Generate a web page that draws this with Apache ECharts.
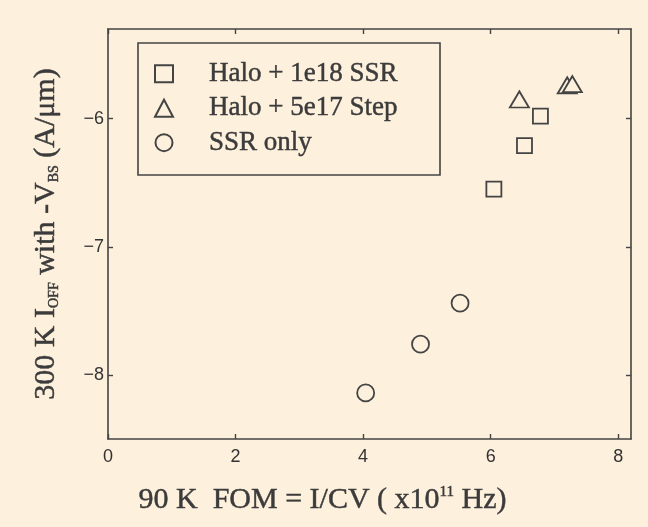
<!DOCTYPE html>
<html>
<head>
<meta charset="utf-8">
<script src="https://cdn.jsdelivr.net/npm/echarts@6/dist/echarts.min.js"></script>
<style>
  html, body { margin: 0; padding: 0; background: #fdf0dc; }
  #chart { width: 648px; height: 527px; }
</style>
</head>
<body>
<div id="chart"></div>
<script>
// 90 K figure of merit (x1e11 Hz) against log10 of the 300 K off-state current
const seriesNames = ['Halo + 1e18 SSR', 'Halo + 5e17 Step', 'SSR only'];
const halo1e18SSR = [[6.05, -6.55], [6.53, -6.21], [6.78, -5.98]];
const halo5e17Step = [[6.45, -5.85], [7.20, -5.74], [7.28, -5.73]];
const ssrOnly = [[4.04, -8.14], [4.90, -7.76], [5.52, -7.44]];
const xTicks = [0, 2, 4, 6, 8];
const yTicks = [-8, -7, -6];

const ink = '#444444';
const textInk = '#3b3b3b';
const paper = '#fdf0dc';
const serif = '"Liberation Serif", "Times New Roman", serif';
const sans = '"Liberation Sans", Arial, sans-serif';

const frameLine = { show: true, onZero: false, lineStyle: { color: ink, width: 1.6 } };
const tickStyle = (vals) => ({ show: true, inside: true, length: 5, customValues: vals, lineStyle: { color: ink, width: 1.4 } });

const hollow = { color: paper, borderColor: ink, borderWidth: 1.8, opacity: 1 };

// serif text with a faint outline so it reads a little heavier
const serifText = (size, extra) => Object.assign({
  fontFamily: serif, fontSize: size, lineHeight: size, color: textInk,
  textBorderColor: textInk, textBorderWidth: 0.45
}, extra || {});

const chart = echarts.init(document.getElementById('chart'), null, { renderer: 'canvas' });
chart.setOption({
  backgroundColor: paper,
  animation: false,
  grid: { left: 108, right: 17, top: 29, bottom: 88, containLabel: false },
  legend: {
    orient: 'vertical',
    left: 149,
    top: 55,
    itemWidth: 18,
    itemHeight: 17,
    itemGap: 7,
    data: seriesNames,
    textStyle: serifText(27, { padding: [0, 0, 0, 31] })
  },
  graphic: [{
    type: 'rect',
    shape: { x: 138, y: 43, width: 302, height: 132 },
    style: { fill: 'none', stroke: ink, lineWidth: 1.6 },
    silent: true
  }],
  xAxis: [{
    type: 'value', min: 0, max: 8.2, position: 'bottom',
    axisLine: frameLine,
    axisTick: tickStyle(xTicks),
    splitLine: { show: false },
    axisLabel: { customValues: xTicks, margin: 9, fontFamily: sans, fontSize: 18, color: '#333333' },
    name: '{m|90 K  FOM = I/CV ( x10}{p|11}{m| Hz)}',
    nameLocation: 'middle',
    nameGap: 46,
    nameTextStyle: {
      padding: [0, 94, 0, 0],
      rich: {
        m: serifText(30, { verticalAlign: 'top' }),
        p: serifText(15, { verticalAlign: 'top' })
      }
    }
  }, {
    type: 'value', min: 0, max: 8.2, position: 'top',
    axisLine: frameLine,
    axisTick: tickStyle(xTicks),
    axisLabel: { show: false },
    splitLine: { show: false }
  }],
  yAxis: [{
    type: 'value', min: -8.5, max: -5.3, position: 'left',
    axisLine: frameLine,
    axisTick: tickStyle(yTicks),
    splitLine: { show: false },
    axisLabel: {
      customValues: yTicks, margin: 4, fontFamily: sans, fontSize: 18, color: '#333333',
      formatter: (v) => String(v).replace('-', '\u2212')
    },
    name: '{m|300 K I}{s|OFF}{m| with -V}{s|BS}{m| (A/\u03bcm)}',
    nameLocation: 'middle',
    nameGap: 47,
    nameTextStyle: {
      rich: {
        m: serifText(30, { verticalAlign: 'top' }),
        s: serifText(14, { verticalAlign: 'bottom', padding: [26, 0, 0, 0] })
      }
    }
  }, {
    type: 'value', min: -8.5, max: -5.3, position: 'right',
    axisLine: frameLine,
    axisTick: tickStyle(yTicks),
    axisLabel: { show: false },
    splitLine: { show: false }
  }],
  series: [{
    name: seriesNames[0], type: 'scatter', symbol: 'rect', symbolSize: [15, 15],
    itemStyle: hollow, data: halo1e18SSR
  }, {
    name: seriesNames[1], type: 'scatter', symbol: 'triangle', symbolSize: [19, 16],
    itemStyle: hollow, data: halo5e17Step
  }, {
    name: seriesNames[2], type: 'scatter', symbol: 'circle', symbolSize: 17,
    itemStyle: hollow, data: ssrOnly
  }]
});
</script>
</body>
</html>
